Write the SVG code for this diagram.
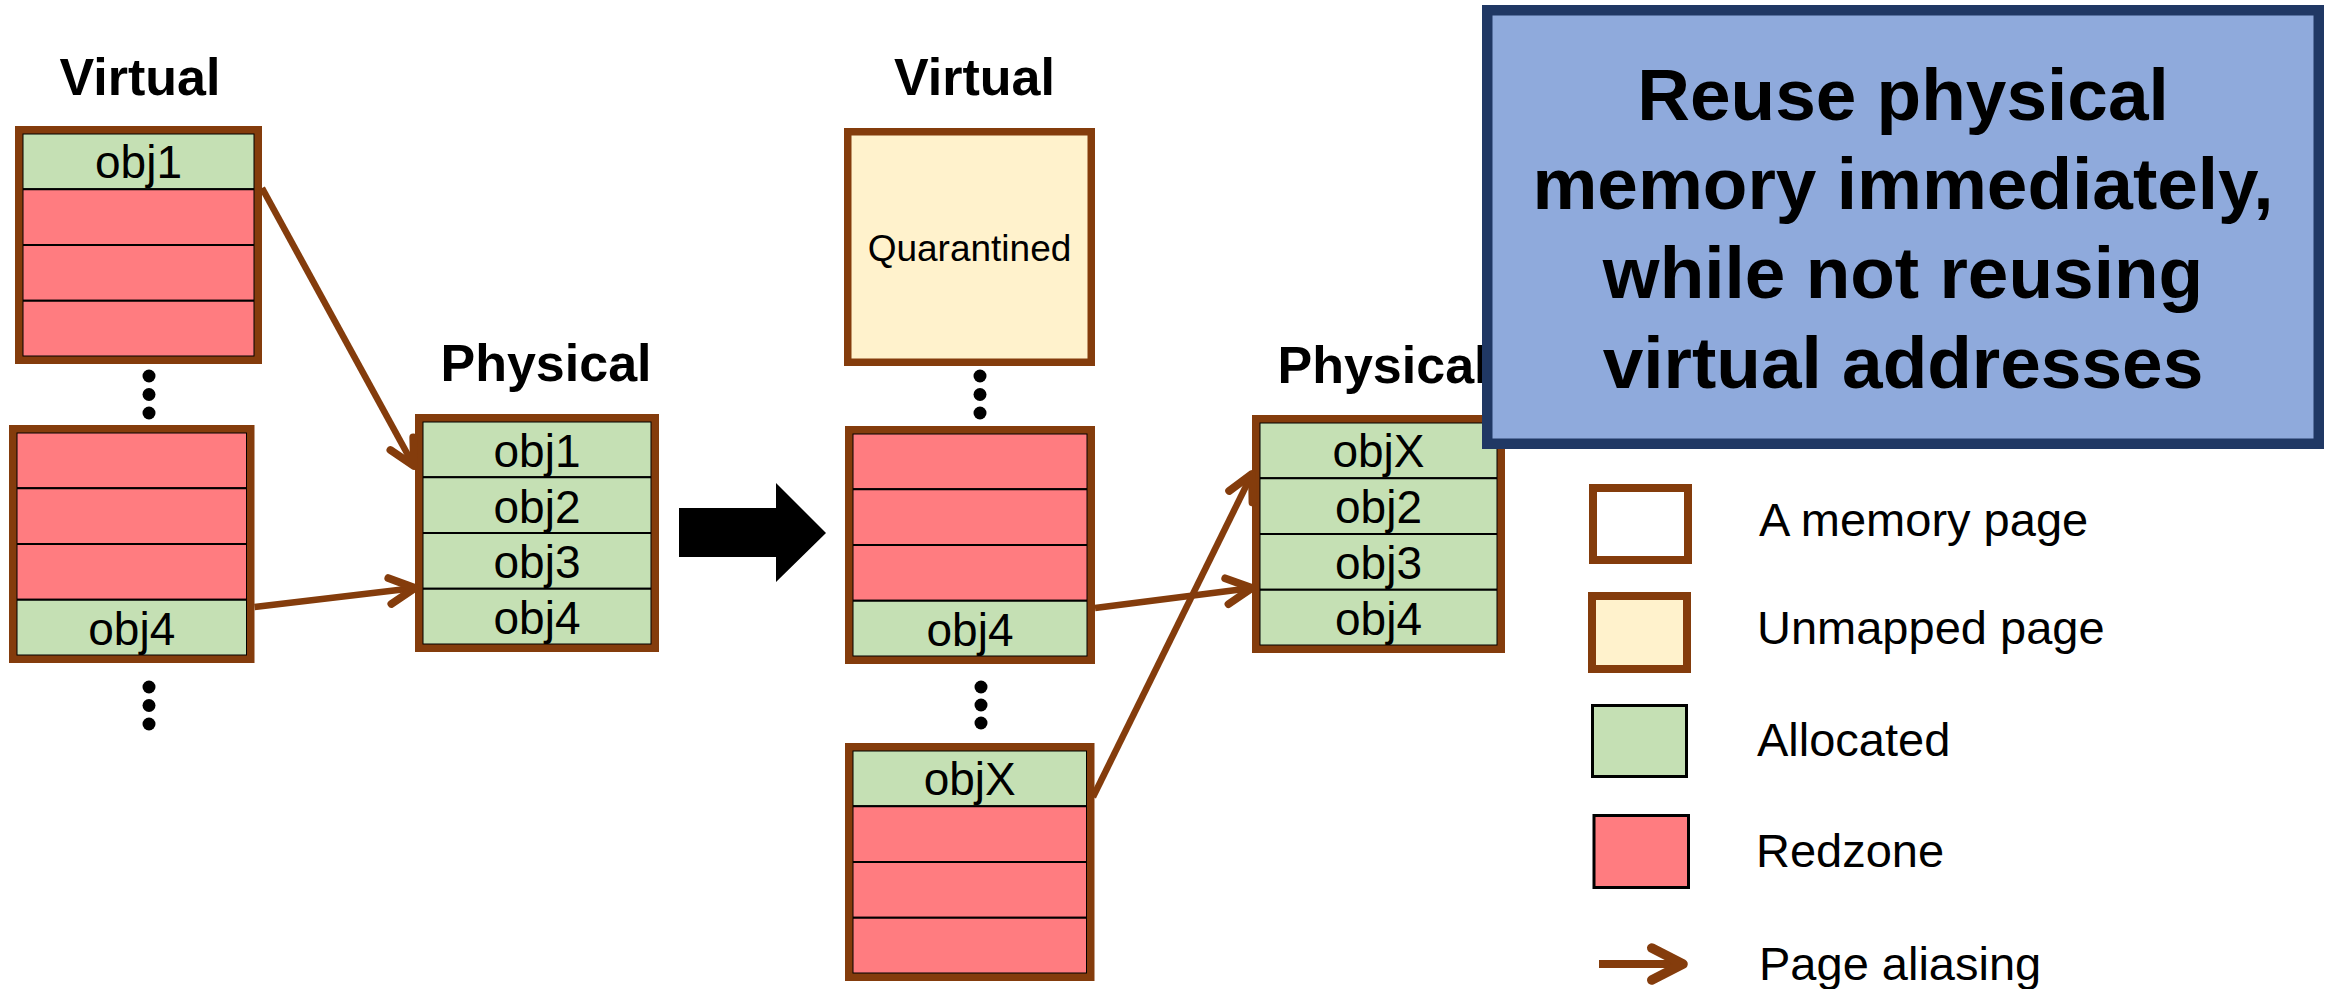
<svg xmlns="http://www.w3.org/2000/svg" width="2336" height="989" viewBox="0 0 2336 989">
  <style>
    text { font-family: "Liberation Sans", Arial, sans-serif; fill: #000; }
    .title { font-size: 52px; font-weight: bold; text-anchor: middle; }
    .cell-label { font-size: 46px; text-anchor: middle; }
    .alloc { fill: #C5E0B4; stroke: #000; stroke-width: 2; }
    .red { fill: #FF7C80; stroke: #000; stroke-width: 2; }
    .frame { fill: none; stroke: #843C0C; stroke-width: 7.5; }
    .unmapped { fill: #FFF2CC; }
    .dot { fill: #000; }
    .alias { fill: none; stroke: #843C0C; stroke-width: 6.5; marker-end: url(#chevron); }
    .callout-text { font-size: 73px; font-weight: bold; text-anchor: middle; }
    .legend-text { font-size: 47px; }
  </style>
  <defs>
    <marker id="chevron" markerUnits="strokeWidth" orient="auto" viewBox="-6 -4 8 8" refX="0" refY="0" markerWidth="8" markerHeight="8" overflow="visible">
      <path d="M-3.9,-2 L0,0 L-3.9,2" fill="none" stroke="#843C0C" stroke-width="1.2" stroke-linecap="round" stroke-linejoin="round"/>
    </marker>
  </defs>

  <rect width="2336" height="989" fill="#FFFFFF"/>

  <!-- column headings -->
  <g id="headings">
    <text class="title" x="140" y="95">Virtual</text>
    <text class="title" x="546" y="381">Physical</text>
    <text class="title" x="974.5" y="95">Virtual</text>
    <text class="title" x="1383" y="383">Physical</text>
  </g>

  <!-- before: virtual page holding obj1 -->
  <g id="virt-page-obj1">
    <rect class="alloc" x="22.5" y="133.5" width="232" height="55.75"/>
    <rect class="red" x="22.5" y="189.25" width="232" height="55.75"/>
    <rect class="red" x="22.5" y="245" width="232" height="55.75"/>
    <rect class="red" x="22.5" y="300.75" width="232" height="55.75"/>
    <rect class="frame" x="18.75" y="129.75" width="239.5" height="230.5"/>
    <text class="cell-label" x="138.5" y="178">obj1</text>
  </g>

  <g id="dots-left">
    <circle class="dot" cx="149" cy="376" r="6.5"/>
    <circle class="dot" cx="149" cy="394.5" r="6.5"/>
    <circle class="dot" cx="149" cy="413" r="6.5"/>
    <circle class="dot" cx="149" cy="687" r="6.5"/>
    <circle class="dot" cx="149" cy="705.5" r="6.5"/>
    <circle class="dot" cx="149" cy="724" r="6.5"/>
  </g>

  <!-- before: virtual page holding obj4 -->
  <g id="virt-page-obj4">
    <rect class="red" x="16.5" y="432.5" width="230.5" height="55.75"/>
    <rect class="red" x="16.5" y="488.25" width="230.5" height="55.75"/>
    <rect class="red" x="16.5" y="544" width="230.5" height="55.75"/>
    <rect class="alloc" x="16.5" y="599.75" width="230.5" height="55.75"/>
    <rect class="frame" x="12.75" y="428.75" width="238" height="230.5"/>
    <text class="cell-label" x="131.75" y="645">obj4</text>
  </g>

  <!-- before: physical page -->
  <g id="phys-page-before">
    <rect class="alloc" x="422.5" y="421.5" width="229" height="55.75"/>
    <rect class="alloc" x="422.5" y="477.25" width="229" height="55.75"/>
    <rect class="alloc" x="422.5" y="533" width="229" height="55.75"/>
    <rect class="alloc" x="422.5" y="588.75" width="229" height="55.75"/>
    <rect class="frame" x="418.75" y="417.75" width="236.5" height="230.5"/>
    <text class="cell-label" x="537" y="466.5">obj1</text>
    <text class="cell-label" x="537" y="522.5">obj2</text>
    <text class="cell-label" x="537" y="578">obj3</text>
    <text class="cell-label" x="537" y="634">obj4</text>
  </g>

  <!-- transition arrow -->
  <g id="transition">
    <polygon points="679,508 776,508 776,483 826,533 776,582 776,557 679,557" fill="#000"/>
  </g>

  <!-- after: quarantined virtual page -->
  <g id="virt-page-quarantined">
    <rect class="unmapped" x="847.75" y="131.75" width="243.5" height="230.5"/>
    <rect class="frame" x="847.75" y="131.75" width="243.5" height="230.5"/>
    <text x="969.5" y="261" font-size="37" text-anchor="middle">Quarantined</text>
  </g>

  <g id="dots-middle">
    <circle class="dot" cx="980" cy="376" r="6.5"/>
    <circle class="dot" cx="980" cy="394.5" r="6.5"/>
    <circle class="dot" cx="980" cy="413" r="6.5"/>
    <circle class="dot" cx="981" cy="687" r="6.5"/>
    <circle class="dot" cx="981" cy="705" r="6.5"/>
    <circle class="dot" cx="981" cy="723" r="6.5"/>
  </g>

  <!-- after: virtual page still holding obj4 -->
  <g id="virt-page-obj4-after">
    <rect class="red" x="852.5" y="433.5" width="235" height="55.75"/>
    <rect class="red" x="852.5" y="489.25" width="235" height="55.75"/>
    <rect class="red" x="852.5" y="545" width="235" height="55.75"/>
    <rect class="alloc" x="852.5" y="600.75" width="235" height="55.75"/>
    <rect class="frame" x="848.75" y="429.75" width="242.5" height="230.5"/>
    <text class="cell-label" x="970" y="646">obj4</text>
  </g>

  <!-- after: fresh virtual page holding objX -->
  <g id="virt-page-objX">
    <rect class="alloc" x="852.5" y="750.5" width="234.5" height="55.75"/>
    <rect class="red" x="852.5" y="806.25" width="234.5" height="55.75"/>
    <rect class="red" x="852.5" y="862" width="234.5" height="55.75"/>
    <rect class="red" x="852.5" y="917.75" width="234.5" height="55.75"/>
    <rect class="frame" x="848.75" y="746.75" width="242" height="230.5"/>
    <text class="cell-label" x="969.75" y="795">objX</text>
  </g>

  <!-- after: reused physical page -->
  <g id="phys-page-after">
    <rect class="alloc" x="1259.5" y="422.5" width="238" height="55.75"/>
    <rect class="alloc" x="1259.5" y="478.25" width="238" height="55.75"/>
    <rect class="alloc" x="1259.5" y="534" width="238" height="55.75"/>
    <rect class="alloc" x="1259.5" y="589.75" width="238" height="55.75"/>
    <rect class="frame" x="1255.75" y="418.75" width="245.5" height="230.5"/>
    <text class="cell-label" x="1378.5" y="467">objX</text>
    <text class="cell-label" x="1378.5" y="523">obj2</text>
    <text class="cell-label" x="1378.5" y="579">obj3</text>
    <text class="cell-label" x="1378.5" y="635">obj4</text>
  </g>

  <!-- page aliasing connectors -->
  <g id="connectors">
    <path class="alias" d="M262,188 L414,466"/>
    <path class="alias" d="M254.5,607 L415,588"/>
    <path class="alias" d="M1095,608 L1252,588"/>
    <path class="alias" d="M1093,797 L1252,474"/>
  </g>

  <!-- legend -->
  <g id="legend">
    <rect x="1593" y="488" width="95" height="72" fill="#FFFFFF" stroke="#843C0C" stroke-width="8"/>
    <text class="legend-text" x="1759" y="536">A memory page</text>
    <rect x="1592" y="596" width="95" height="73" fill="#FFF2CC" stroke="#843C0C" stroke-width="8"/>
    <text class="legend-text" x="1757" y="644">Unmapped page</text>
    <rect x="1592.5" y="705.5" width="94" height="71" fill="#C5E0B4" stroke="#000" stroke-width="3"/>
    <text class="legend-text" x="1757" y="756">Allocated</text>
    <rect x="1594" y="815.5" width="94.5" height="72" fill="#FF7C80" stroke="#000" stroke-width="3"/>
    <text class="legend-text" x="1756" y="867">Redzone</text>
    <path d="M1599,964 L1683,964" fill="none" stroke="#843C0C" stroke-width="8" marker-end="url(#chevron)"/>
    <text class="legend-text" x="1759" y="980">Page aliasing</text>
  </g>

  <!-- callout -->
  <g id="callout">
    <rect x="1487.25" y="10.25" width="831.5" height="433.5" fill="#8FAADC" stroke="#203864" stroke-width="10.5"/>
    <text class="callout-text" x="1903" y="120">Reuse physical</text>
    <text class="callout-text" x="1903" y="209">memory immediately,</text>
    <text class="callout-text" x="1903" y="298">while not reusing</text>
    <text class="callout-text" x="1903" y="388">virtual addresses</text>
  </g>
</svg>
